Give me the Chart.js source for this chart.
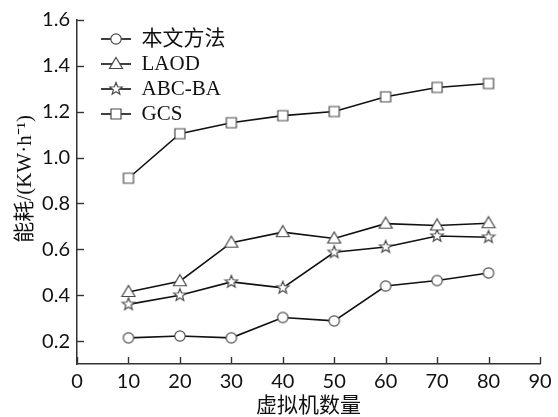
<!DOCTYPE html>
<html>
<head>
<meta charset="utf-8">
<script src="https://cdn.jsdelivr.net/npm/chart.js@4.4.1/dist/chart.umd.min.js"></script>
<style>
  html, body { margin: 0; padding: 0; background: #fff; }
  #wrap { width: 558px; height: 417px; }
</style>
</head>
<body>
<div id="wrap"><canvas id="energyChart" width="558" height="417"></canvas></div>
<script>
// Energy consumption vs number of VMs

const vmCounts = [10, 20, 30, 40, 50, 60, 70, 80];
const seriesNames = ['本文方法', 'LAOD', 'ABC-BA', 'GCS'];
const oursValues = [0.214, 0.222, 0.214, 0.303, 0.288, 0.440, 0.464, 0.497];
const laodValues = [0.414, 0.461, 0.629, 0.675, 0.647, 0.712, 0.704, 0.714];
const abcbaValues = [0.360, 0.400, 0.458, 0.432, 0.587, 0.610, 0.658, 0.653];
const gcsValues = [0.910, 1.104, 1.152, 1.183, 1.201, 1.265, 1.306, 1.323];
const xTickValues = [0, 10, 20, 30, 40, 50, 60, 70, 80, 90];
const yTickValues = [0.2, 0.4, 0.6, 0.8, 1.0, 1.2, 1.4, 1.6];

const lineColor = '#111';
const markerEdge = '#4a4a4a';
const tickFont = { family: 'Lato, "DejaVu Sans", sans-serif', size: 20 };
const serifFont = '"Liberation Serif", "Noto Sans CJK SC", serif';

// draw one marker shape centred on (cx, cy)
function drawShape(ctx, shape, cx, cy) {
    ctx.beginPath();
    if (shape === 'circle') {
        ctx.arc(cx, cy, 5.2, 0, Math.PI * 2);
    } else if (shape === 'triangle') {
        ctx.moveTo(cx, cy - 6.5);
        ctx.lineTo(cx + 6.5, cy + 4.5);
        ctx.lineTo(cx - 6.5, cy + 4.5);
        ctx.closePath();
    } else if (shape === 'square') {
        ctx.rect(cx - 5, cy - 5, 10, 10);
    } else if (shape === 'star') {
        for (let i = 0; i < 10; i++) {
            const r = i % 2 === 0 ? 6.5 : 2.8;
            const a = -Math.PI / 2 + i * Math.PI / 5;
            const px = cx + r * Math.cos(a);
            const py = cy + r * Math.sin(a);
            if (i === 0) ctx.moveTo(px, py); else ctx.lineTo(px, py);
        }
        ctx.closePath();
    }
    ctx.fillStyle = '#fff';
    ctx.fill();
    ctx.lineWidth = 1.2;
    ctx.strokeStyle = markerEdge;
    ctx.stroke();
}

function makeMarker(shape) {
    const c = document.createElement('canvas');
    c.width = 16;
    c.height = 16;
    drawShape(c.getContext('2d'), shape, 8, 8);
    return c;
}

// legend icon: short line with the marker in the middle
function makeLegendIcon(shape) {
    const c = document.createElement('canvas');
    c.width = 50;
    c.height = 16;
    const ctx = c.getContext('2d');
    ctx.beginPath();
    ctx.moveTo(20, 8);
    ctx.lineTo(50, 8);
    ctx.lineWidth = 1.6;
    ctx.strokeStyle = lineColor;
    ctx.stroke();
    drawShape(ctx, shape, 35, 8);
    return c;
}

const shapes = ['circle', 'triangle', 'star', 'square'];
const allValues = [oursValues, laodValues, abcbaValues, gcsValues];

const datasets = seriesNames.map(function(name, i) {
    return {
        label: name,
        data: vmCounts.map((x, j) => ({ x: x, y: allValues[i][j] })),
        borderColor: lineColor,
        borderWidth: 1.6,
        pointStyle: makeMarker(shapes[i]),
        legendIcon: makeLegendIcon(shapes[i]),
        pointRadius: 6,
        fill: false,
        tension: 0
    };
});

// inward tick marks along both axes
const inwardTicks = {
    id: 'inwardTicks',
    afterDraw(chart) {
        const ctx = chart.ctx;
        const xs = chart.scales.x;
        const ys = chart.scales.y;
        const area = chart.chartArea;
        ctx.save();
        ctx.strokeStyle = '#333';
        ctx.lineWidth = 1.4;
        xTickValues.forEach(v => {
            const px = Math.round(xs.getPixelForValue(v)) + 0.5;
            ctx.beginPath();
            ctx.moveTo(px, area.bottom);
            ctx.lineTo(px, area.bottom - 7);
            ctx.stroke();
        });
        yTickValues.forEach(v => {
            const py = Math.round(ys.getPixelForValue(v)) + 0.5;
            ctx.beginPath();
            ctx.moveTo(area.left, py);
            ctx.lineTo(area.left + 7, py);
            ctx.stroke();
        });
        ctx.restore();
    }
};

new Chart(document.getElementById('energyChart'), {
    type: 'line',
    data: { datasets: datasets },
    plugins: [inwardTicks],
    options: {
        responsive: false,
        animation: false,
        layout: { padding: { top: 20, right: 18, left: 0, bottom: 0 } },
        plugins: {
            tooltip: { enabled: false },
            legend: {
                position: 'chartArea',
                align: 'start',
                title: {
                    display: true,
                    text: ' ',
                    font: { size: 1, lineHeight: 1 },
                    padding: { top: 23.5, bottom: 0 }
                },
                labels: {
                    usePointStyle: true,
                    pointStyleWidth: 50,
                    boxHeight: 16,
                    padding: 4,
                    color: '#111',
                    font: { family: serifFont, size: 21 },
                    generateLabels(chart) {
                        const items = Chart.defaults.plugins.legend.labels.generateLabels(chart);
                        items.forEach(item => {
                            item.pointStyle = chart.data.datasets[item.datasetIndex].legendIcon;
                        });
                        return items;
                    }
                }
            }
        },
        scales: {
            x: {
                type: 'linear',
                min: 0,
                max: 90,
                afterFit(scale) { scale.height = 53; },
                afterBuildTicks(scale) { scale.ticks = xTickValues.map(v => ({ value: v })); },
                grid: { display: false, drawTicks: false },
                border: { display: true, color: '#333', width: 1.5 },
                ticks: { color: '#111', font: tickFont, padding: 6, maxRotation: 0 },
                title: {
                    display: true,
                    text: '虚拟机数量',
                    color: '#111',
                    font: { family: serifFont, size: 21, lineHeight: 1 },
                    padding: { top: 0, bottom: 0.5 }
                }
            },
            y: {
                min: 0.1,
                max: 1.6,
                afterFit(scale) { scale.width = 77; },
                afterBuildTicks(scale) { scale.ticks = yTickValues.map(v => ({ value: v })); },
                grid: { display: false, drawTicks: false },
                border: { display: true, color: '#333', width: 1.5 },
                ticks: {
                    color: '#111',
                    font: tickFont,
                    padding: 7,
                    callback: v => v.toFixed(1)
                },
                title: {
                    display: true,
                    text: '\u3000 能耗/(KW·h⁻¹)',
                    color: '#111',
                    font: { family: serifFont, size: 21, lineHeight: 1 },
                    padding: { top: 15, bottom: 0 }
                }
            }
        }
    }
});
</script>
</body>
</html>
